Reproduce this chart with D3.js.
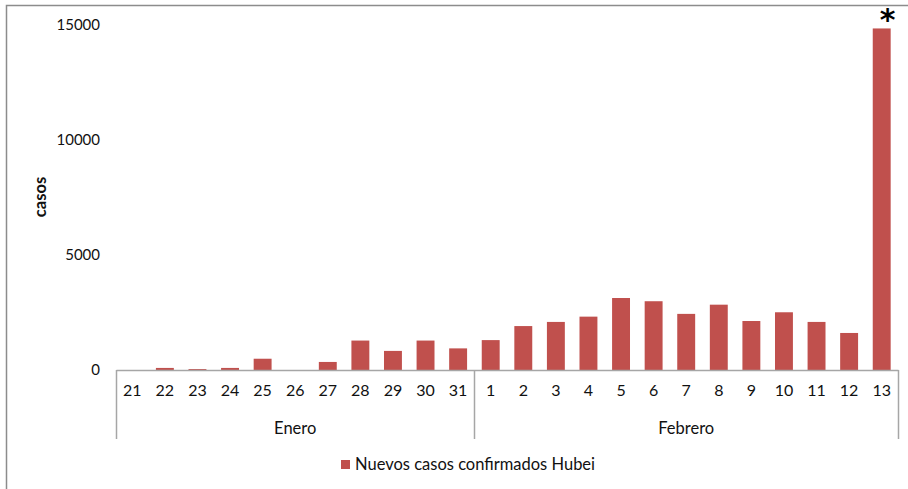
<!DOCTYPE html>
<html>
<head>
<meta charset="utf-8">
<script src="https://cdn.jsdelivr.net/npm/d3@7"></script>
<style>
  html, body { margin: 0; padding: 0; background: #fff; }
  svg { display: block; font-family: Lato, "Open Sans", sans-serif; }
</style>
</head>
<body>
<svg id="chart" width="908" height="489"></svg>
<script>
// New confirmed cases in Hubei, 21 Jan - 13 Feb
const days = ['21','22','23','24','25','26','27','28','29','30','31',
              '1','2','3','4','5','6','7','8','9','10','11','12','13'];
const months = ['Enero','Enero','Enero','Enero','Enero','Enero','Enero','Enero','Enero','Enero','Enero',
                'Febrero','Febrero','Febrero','Febrero','Febrero','Febrero','Febrero','Febrero','Febrero','Febrero','Febrero','Febrero','Febrero'];
const casos = [0, 90, 40, 90, 490, 0, 350, 1280, 830, 1280, 940,
               1300, 1910, 2090, 2320, 3130, 2990, 2440, 2840, 2130, 2510, 2090, 1610, 14850];
const yTicks = [0, 5000, 10000, 15000];
const seriesName = 'Nuevos casos confirmados Hubei';

const svg = d3.select('#chart');
const L = 116, R = 898, T = 25, B = 370;
const red = '#C0504D', axisCol = '#A6A6A6';

// outer frame (left + top edges only are inside the picture)
svg.append('path').attr('d', `M6.5,489 V5.5 H908`).attr('fill', 'none')
  .attr('stroke', '#8c8c8c').attr('stroke-width', 1.5);

const idx = d3.range(days.length);
const x = d3.scaleBand().domain(idx).range([L, R]).paddingInner(0.45).paddingOuter(0.225);
const y = d3.scaleLinear().domain([0, 15000]).range([B, T]);

// y axis: labels only
const ya = svg.append('g').attr('transform', `translate(${L - 16},0)`)
  .call(d3.axisLeft(y).tickValues(yTicks).tickSize(0).tickPadding(0).tickFormat(d3.format('d')));
ya.select('.domain').remove();
ya.selectAll('text').attr('font-size', 15).attr('font-family', 'Lato, sans-serif').attr('fill', '#111');

svg.append('text').attr('transform', 'translate(40,197) rotate(-90)')
  .attr('text-anchor', 'middle').attr('dy', '0.35em').attr('font-size', 16.5).attr('font-weight', 'bold')
  .attr('fill', '#111').text('casos');

// bars
svg.append('g').selectAll('rect').data(casos).join('rect')
  .attr('x', (d, i) => x(i)).attr('width', x.bandwidth())
  .attr('y', d => y(d)).attr('height', d => B - y(d))
  .attr('fill', red);

// category axis
const xa = svg.append('g').attr('transform', `translate(0,${B})`)
  .call(d3.axisBottom(x).tickSize(0).tickSizeOuter(0).tickPadding(15).tickFormat(i => days[i]));
xa.select('.domain').attr('stroke', axisCol).attr('stroke-width', 1.5);
xa.selectAll('text').attr('font-size', 16).attr('font-family', 'Lato, sans-serif').attr('fill', '#111');

// month groups
const half = x.step() * x.paddingInner() / 2;
const groups = d3.groups(idx, i => months[i]);
const edges = [L];
groups.forEach(([m, ii]) => {
  const x0 = x(ii[0]) - half, x1 = x(ii[ii.length - 1]) + x.bandwidth() + half;
  edges.push(x1);
  svg.append('text').attr('x', (x0 + x1) / 2).attr('y', 428).attr('dy', '0.35em')
    .attr('text-anchor', 'middle').attr('font-size', 16.5).attr('fill', '#111').text(m);
});
svg.append('g').selectAll('line').data(edges).join('line')
  .attr('x1', d => Math.round(d) + 0.5).attr('x2', d => Math.round(d) + 0.5)
  .attr('y1', B).attr('y2', 439).attr('stroke', axisCol).attr('stroke-width', 1.5);

// asterisk over the last bar
svg.append('text').attr('x', x(days.length - 1) + x.bandwidth() / 2 + 6).attr('y', 30)
  .attr('text-anchor', 'middle').attr('font-size', 30).attr('font-weight', 'bold')
  .attr('font-family', '"DejaVu Sans", sans-serif').attr('fill', '#000').text('*');

// legend
const lg = svg.append('g').attr('transform', 'translate(341,460)');
lg.append('rect').attr('width', 9).attr('height', 9).attr('fill', red);
lg.append('text').attr('x', 14).attr('y', 4.5).attr('dy', '0.35em')
  .attr('font-size', 16.5).attr('fill', '#111').text(seriesName);
</script>
</body>
</html>
